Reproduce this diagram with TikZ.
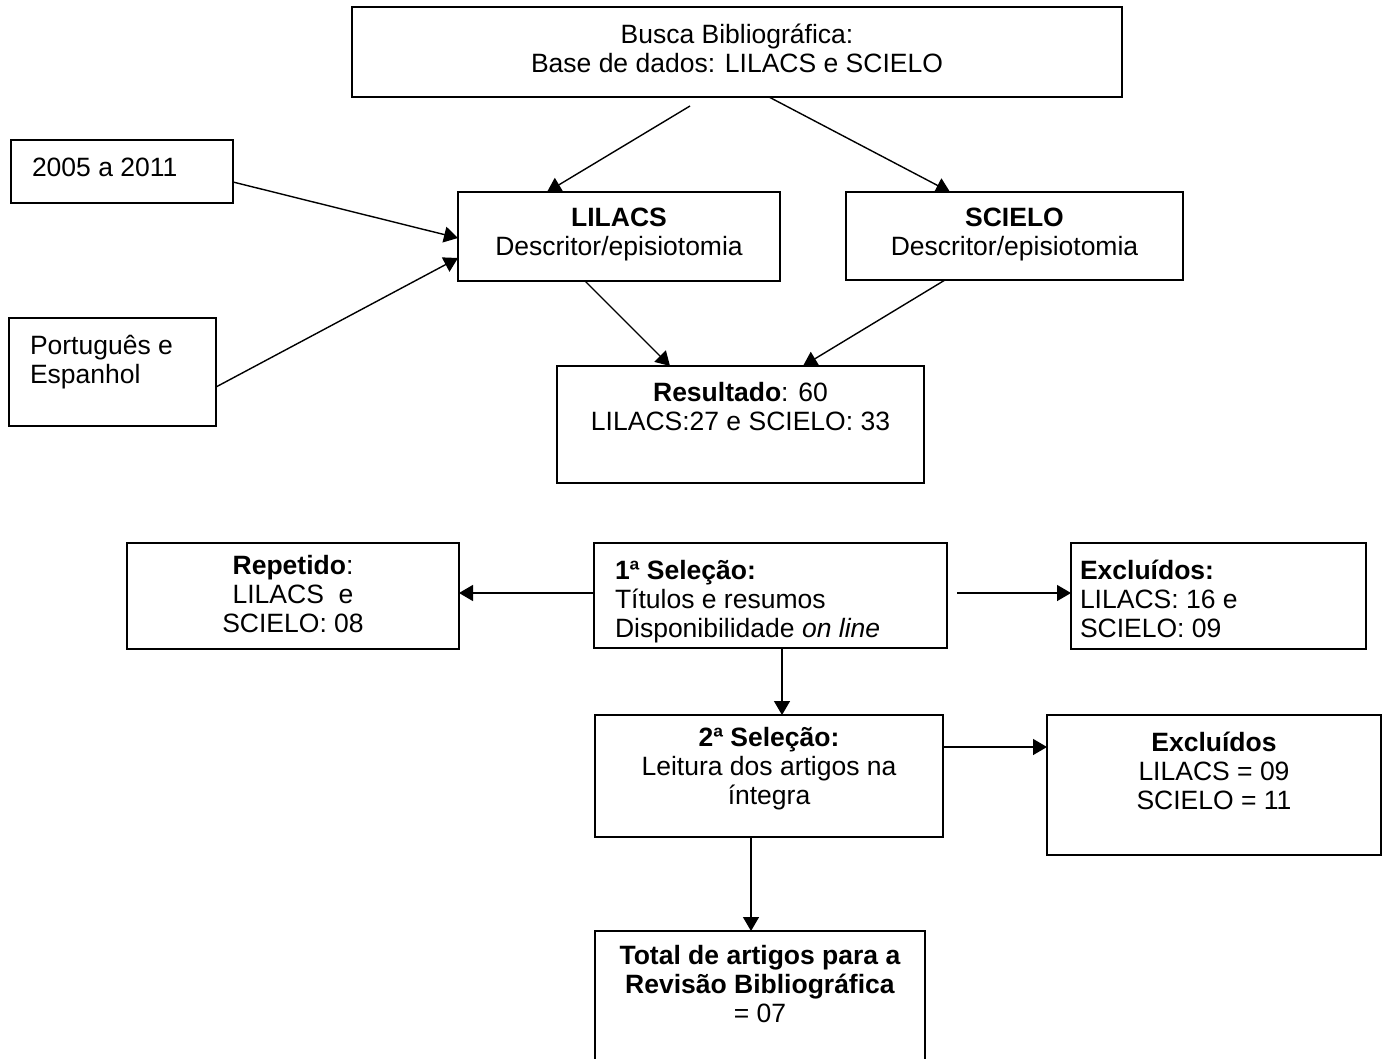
\documentclass[tikz,border=0pt]{standalone}
\usepackage{fontspec}
\setmainfont{Liberation Sans}
\usetikzlibrary{arrows.meta}

% box text: width, height, first baseline, text
\newcommand{\caixa}[4]{\parbox[c][#2pt][t]{#1pt}{\centering\rule{0pt}{#3pt}#4}}
\newcommand{\caixaesq}[5]{\parbox[c][#2pt][t]{#1pt}{\raggedright\leftskip=#4pt\rule{0pt}{#3pt}#5}}

\begin{document}
\begin{tikzpicture}[x=1pt, y=-1pt,
  box/.style={draw, line width=1.8pt, inner sep=0pt, outer sep=0pt, anchor=north west, font=\fontsize{26.5}{29}\selectfont},
  seta/.style={line width=1.4pt, -{Triangle[length=14pt, width=16pt]}}]
  \useasboundingbox (0,0) rectangle (1386,1059);
  \fill[white] (0,0) rectangle (1386,1059);

  % top part
  \node[box] (busca) at (352,7) {\caixa{770}{90}{36.5}{Busca Bibliográfica:\\Base de dados: LILACS e SCIELO}};
  \node[box] (ano) at (11,140) {\caixaesq{222}{63}{36.5}{21}{2005 a 2011}};
  \node[box] (lingua) at (9,318) {\caixaesq{207}{108}{36.5}{21}{Português e\\Espanhol}};
  \node[box] (lilacs) at (458,192) {\caixa{322}{89}{34.5}{\textbf{LILACS}\\Descritor/episiotomia}};
  \node[box] (scielo) at (846,192) {\caixa{337}{88}{34.5}{\textbf{SCIELO}\\Descritor/episiotomia}};
  \node[box] (result) at (557,366) {\caixa{367}{117}{35.5}{\textbf{Resultado}: 60\\LILACS:27 e SCIELO: 33}};

  % selections
  \node[box] (repetido) at (127,543) {\caixa{332}{106}{31.5}{\textbf{Repetido}:\\LILACS~ e\\SCIELO: 08}};
  \node[box] (sel1) at (594,543) {\caixaesq{353}{105}{36.5}{21}{\textbf{1ª Seleção:}\\Títulos e resumos\\Disponibilidade \textit{on line}}};
  \node[box] (excl1) at (1071,543) {\caixaesq{295}{106}{36.5}{9}{\textbf{Excluídos:}\\LILACS: 16 e\\SCIELO: 09}};
  \node[box] (sel2) at (595,715) {\caixa{348}{122}{31.5}{\textbf{2ª Seleção:}\\Leitura dos artigos na\\íntegra}};
  \node[box] (excl2) at (1047,715) {\caixa{334}{140}{36.5}{\textbf{Excluídos}\\LILACS = 09\\SCIELO = 11}};
  \node[box] (total) at (595,931) {\caixa{330}{140}{33.5}{\textbf{Total de artigos para a}\\\textbf{Revisão Bibliográfica}\\= 07}};

  \draw[seta] ([shift={(338,9)}]busca.south west) -- ([shift={(89,0)}]lilacs.north west);
  \draw[seta] ([shift={(417,0)}]busca.south west) -- ([shift={(104,0)}]scielo.north west);
  \draw[seta] ([shift={(0,42)}]ano.north east) -- ([shift={(0,46)}]lilacs.north west);
  \draw[seta] ([shift={(0,69)}]lingua.north east) -- ([shift={(0,66)}]lilacs.north west);
  \draw[seta] ([shift={(127,0)}]lilacs.south west) -- ([shift={(113,0)}]result.north west);
  \draw[seta] ([shift={(99,0)}]scielo.south west) -- ([shift={(246,0)}]result.north west);
  \draw[seta] ([shift={(0,50)}]sel1.north west) -- ([shift={(0,50)}]repetido.north east);
  \draw[seta] ([shift={(10,50)}]sel1.north east) -- ([shift={(0,50)}]excl1.north west);
  \draw[seta] ([shift={(188,0)}]sel1.south west) -- ([shift={(187,0)}]sel2.north west);
  \draw[seta] ([shift={(0,32)}]sel2.north east) -- ([shift={(0,32)}]excl2.north west);
  \draw[seta] ([shift={(156,0)}]sel2.south west) -- ([shift={(156,0)}]total.north west);
\end{tikzpicture}
\end{document}
